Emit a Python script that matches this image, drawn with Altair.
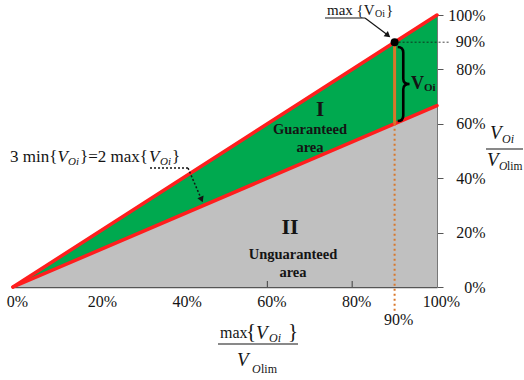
import altair as alt
import pandas as pd

# Shares of the output-voltage limit (0..1)
X_SHARE = [0.0, 1.0]          # max{V_Oi} / V_Olim
UPPER = [0.0, 1.0]            # upper bound: V_Oi = max{V_Oi}
LOWER = [0.0, 0.667]          # lower bound: 3 min{V_Oi} = 2 max{V_Oi}
BASE = [0.0, 0.0]

OP_X = [0.9]                  # operating point max{V_Oi}/V_Olim
OP_TOP = [0.9]
OP_BOTTOM = [0.6]

AXIS_VALUES = [0.0, 0.2, 0.4, 0.6, 0.8, 1.0]
X_INNER_TICKS = [0.6, 0.8]

SERIF = "Liberation Serif"
GREEN = "#00A94F"
GRAY = "#C0C0C0"
RED = "#FF1E1E"
ORANGE = "#D9772B"
INK = "#141414"

XS = alt.Scale(domain=[0, 1], nice=False, zero=False)
YS = alt.Scale(domain=[0, 1], nice=False, zero=False)

XAX = alt.Axis(values=AXIS_VALUES, format=".0%", title=None, grid=False, ticks=False,
               labelFont=SERIF, labelFontSize=16, labelColor=INK, labelPadding=6,
               labelOffset=4, labelFlush=False, labelOverlap=False,
               domainColor="#555555", domainWidth=1.5)
YAX = alt.Axis(values=AXIS_VALUES, format=".0%", title=None, grid=False, orient="right",
               ticks=True, tickSize=6, tickColor="#555555", tickWidth=1,
               labelFont=SERIF, labelFontSize=16, labelColor=INK, labelAlign="right",
               labelPadding=42, labelFlush=False, labelOverlap=False,
               domainColor="#777777", domainWidth=1)

area_df = pd.DataFrame({"x": X_SHARE, "upper": UPPER, "lower": LOWER, "base": BASE})
op_df = pd.DataFrame({"x": OP_X, "top": OP_TOP, "bottom": OP_BOTTOM})
tick_df = pd.DataFrame({"x": X_INNER_TICKS})
one = pd.DataFrame({"k": [0]})


def X(field):
    return alt.X(field, type="quantitative", scale=XS, axis=XAX)


def Y(field):
    return alt.Y(field, type="quantitative", scale=YS, axis=YAX)


def txt(s, x, y, size, style="normal", weight="normal", align="left", color=INK):
    return alt.Chart(one).mark_text(
        text=s, font=SERIF, fontSize=size, fontStyle=style, fontWeight=weight,
        align=align, baseline="middle", color=color,
    ).encode(x=alt.value(x), y=alt.value(y))


def seg(x1, y1, x2, y2, color=INK, width=1.2, dash=None):
    kw = dict(color=color, strokeWidth=width)
    if dash:
        kw["strokeDash"] = dash
    return alt.Chart(one).mark_rule(**kw).encode(
        x=alt.value(x1), y=alt.value(y1), x2=alt.value(x2), y2=alt.value(y2))


def head(x, y, angle, size=45):
    return alt.Chart(one).mark_point(shape="triangle-down", filled=True, color=INK,
                                     size=size, angle=angle, opacity=1).encode(
        x=alt.value(x), y=alt.value(y))


base = alt.Chart(area_df)

gray_area = base.mark_area(color=GRAY).encode(x=X("x"), y=Y("lower"), y2="base")
green_area = base.mark_area(color=GREEN).encode(x=X("x"), y=Y("upper"), y2="lower")
upper_line = base.mark_line(color=RED, strokeWidth=3.5, strokeCap="round").encode(x=X("x"), y=Y("upper"))
lower_line = base.mark_line(color=RED, strokeWidth=3.5, strokeCap="round").encode(x=X("x"), y=Y("lower"))

inner_ticks = alt.Chart(tick_df).mark_rule(color="#555555", strokeWidth=1.2).encode(
    x=X("x"), y=alt.value(266), y2=alt.value(272))

op = alt.Chart(op_df)
op_span = op.mark_rule(color=ORANGE, strokeWidth=3).encode(x=X("x"), y=Y("top"), y2="bottom")
op_drop = op.mark_rule(color=ORANGE, strokeWidth=2, strokeDash=[2, 3]).encode(
    x=X("x"), y=Y("bottom"), y2=alt.value(296))
op_level = op.mark_rule(color=INK, strokeWidth=0.8, strokeDash=[2, 2]).encode(
    x=X("x"), x2=alt.value(437), y=Y("top"))
op_dot = op.mark_circle(color="#000000", size=64, opacity=1).encode(x=X("x"), y=Y("top"))
op_label_right = op.mark_text(text="90%", font=SERIF, fontSize=16, color=INK, align="right",
                              baseline="middle").encode(x=alt.value(472), y=Y("top"))
op_label_bottom = op.mark_text(text="90%", font=SERIF, fontSize=16, color=INK, align="center",
                               baseline="middle", dx=4).encode(x=X("x"), y=alt.value(305))

# curly brace spanning the gap between the two bounds at the operating point
BRACE_PATH = ("M -0.17 -1 Q -0.02 -1 -0.02 -0.85 L -0.02 -0.14 Q -0.02 0 0.15 0 "
              "Q -0.02 0 -0.02 0.14 L -0.02 0.85 Q -0.02 1 -0.17 1")
brace = alt.Chart(one).mark_point(shape=BRACE_PATH, filled=False, color="#000000",
                                  strokeWidth=2.6, size=5476, opacity=1).encode(
    x=alt.value(391), y=alt.value(69))

layers = [
    gray_area, green_area, upper_line, lower_line, inner_ticks,
    op_span, op_drop, op_level, op_dot, brace,
    op_label_right, op_label_bottom,
    # region labels
    txt("I", 307, 95, 21, weight="bold", align="center"),
    txt("Guaranteed", 297, 115, 14.5, weight="bold", align="center"),
    txt("area", 297, 133, 14.5, weight="bold", align="center"),
    txt("II", 277, 212, 22, weight="bold", align="center"),
    txt("Unguaranteed", 280, 240, 14.5, weight="bold", align="center"),
    txt("area", 280, 258, 14.5, weight="bold", align="center"),
    # brace label
    txt("V", 398, 69, 18, weight="bold"),
    txt("Oi", 411, 73, 11, weight="bold"),
    # max{V_Oi} call-out
    txt("max {V", 314, -5, 15),
    txt("Oi", 362, -1, 10),
    txt("}", 373, -5, 15),
    seg(312, 3, 352, 3, width=1),
    seg(352, 3, 374, 19.5, width=1.2),
    head(375, 20.5, 309),
    # lower-bound call-out
    txt("3 min{", -3, 142, 17),
    txt("V", 44.5, 142, 17, style="italic"),
    txt("Oi", 55, 147, 11, style="italic"),
    txt("}=2 max{", 67, 142, 17),
    txt("V", 136, 142, 17, style="italic"),
    txt("Oi", 147, 147, 11, style="italic"),
    txt("}", 159, 142, 17),
    seg(137, 153, 175, 153, width=1.5, dash=[2, 2]),
    seg(175, 153, 188.4, 184.3, width=1.5, dash=[2, 2]),
    head(188.6, 184.5, 337),
    # x-axis title: max{V_Oi} / V_Olim
    txt("max", 207, 318, 16),
    txt("{", 233, 317, 21),
    txt("V", 243, 318, 19, style="italic"),
    txt("Oi", 256, 323, 12, style="italic"),
    txt("}", 275, 317, 21),
    seg(205, 329, 285, 329, width=1.2),
    txt("V", 224, 345, 19, style="italic"),
    txt("O", 239, 354, 12, style="italic"),
    txt("lim", 248, 354, 12),
    # y-axis title: V_Oi / V_Olim
    txt("V", 477, 118, 19, style="italic"),
    txt("Oi", 489, 124, 12, style="italic"),
    seg(473, 134, 510, 134, width=1.2),
    txt("V", 474, 145, 19, style="italic"),
    txt("O", 486, 152, 11.5, style="italic"),
    txt("lim", 494, 152, 11.5),
]

chart = alt.layer(*layers).properties(
    width=424, height=272,
    autosize=alt.AutoSizeParams(type="none"),
    padding={"left": 13, "top": 15, "right": 87, "bottom": 93},
    background="white",
).configure_view(stroke=None)

chart.save("out.html", embed_options={"renderer": "svg", "actions": False})
